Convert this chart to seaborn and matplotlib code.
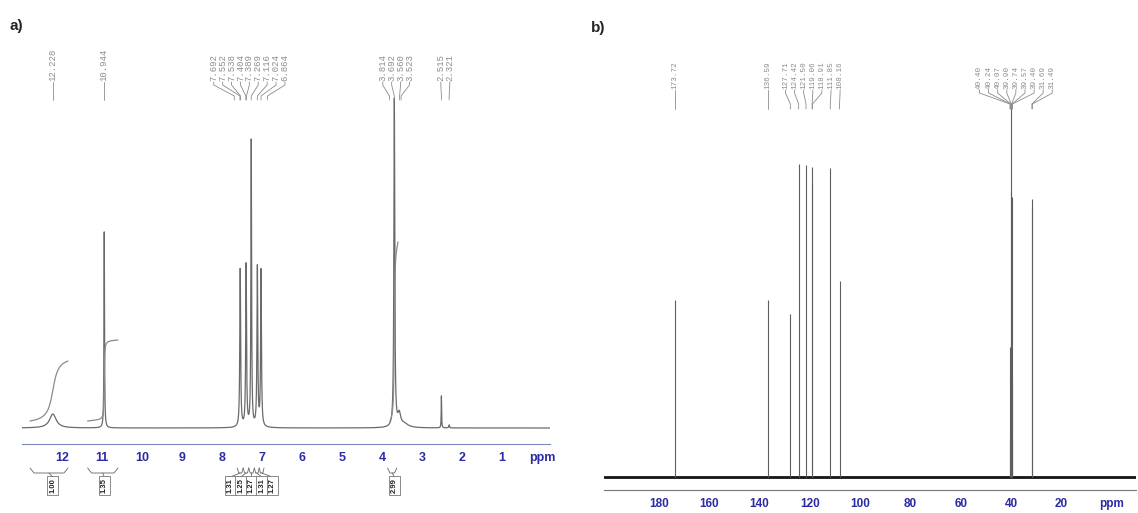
import numpy as np
import matplotlib
matplotlib.use("Agg")
import matplotlib.pyplot as plt
from matplotlib.ticker import MultipleLocator, FixedLocator, FixedFormatter
import seaborn as sns

# ---------------- data ----------------
# 1H spectrum: peak shift (ppm), height (px above baseline), half width (ppm)
h_shift = [12.228, 10.944, 7.545, 7.397, 7.269, 7.116, 7.024, 3.692, 3.57, 3.45, 2.515, 2.321]
h_height = [14, 196, 158, 162, 286, 159, 156, 328, 12, 4, 32, 3]
h_width = [0.10, 0.008, 0.012, 0.012, 0.010, 0.012, 0.012, 0.013, 0.04, 0.12, 0.006, 0.01]

# 1H peak pick labels
h_labels = [12.228, 10.944, 7.692, 7.552, 7.538, 7.404, 7.389, 7.269, 7.116,
            7.024, 6.864, 3.814, 3.692, 3.560, 3.523, 2.515, 2.321]

# 1H integrals
int_from = [12.80, 11.36, 7.62, 7.47, 7.33, 7.19, 7.07, 3.86]
int_to = [11.85, 10.60, 7.47, 7.33, 7.19, 7.07, 6.95, 3.63]
int_peak = [12.228, 10.944, 7.545, 7.397, 7.269, 7.116, 7.024, 3.692]
int_value = [1.00, 1.35, 1.31, 1.25, 1.27, 1.31, 1.27, 2.99]

# integral curves that show on the spectrum (from, to, offset, rise in px)
curve_from = [12.80, 11.36, 3.80]
curve_to = [11.85, 10.60, 3.60]
curve_base = [7, 7, 7]
curve_rise = [60, 81, 179]

# 13C spectrum
c_shift = [173.72, 136.59, 127.71, 124.42, 121.50, 119.06, 118.91, 111.85, 108.16,
           40.40, 40.24, 40.07, 39.90, 39.74, 39.57, 39.40, 31.69, 31.49]
c_height = [177, 177, 163, 313, 312, 310, 294, 309, 196,
            38, 130, 285, 371, 280, 96, 38, 278, 270]

h_ticks = list(range(0, 13))
c_ticks = list(range(0, 181, 20))

# ---------------- style ----------------
sns.set_theme(style="white")
plt.rcParams["font.family"] = ["Liberation Sans", "DejaVu Sans"]

W, H = 1138, 513
fig = plt.figure(figsize=(W / 100, H / 100), dpi=100)

SPEC = "#6a6a6a"
LAB = "#8c8c8c"
BLUE = "#2b2ba3"


def spread(vals, gap):
    """spread label positions so that neighbours are at least gap apart"""
    vals = np.asarray(vals, float)
    order = np.argsort(vals)
    groups = [[v] for v in vals[order]]
    changed = True
    while changed:
        changed = False
        merged = [groups[0]]
        for g in groups[1:]:
            p = merged[-1]
            end_p = np.mean(p) + (len(p) - 1) * gap / 2
            start_g = np.mean(g) - (len(g) - 1) * gap / 2
            if start_g - end_p < gap:
                merged[-1] = p + g
                changed = True
            else:
                merged.append(g)
        groups = merged
    out = []
    for g in groups:
        c = np.mean(g)
        out += [c + (i - (len(g) - 1) / 2) * gap for i in range(len(g))]
    res = np.empty(len(vals))
    res[order] = out
    return res


def lorentz(x, pos, hgt, wid):
    y = np.zeros_like(x)
    for p, h, w in zip(pos, hgt, wid):
        y += h * w ** 2 / ((x - p) ** 2 + w ** 2)
    return y


# ================= panel a : 1H =================
A_BASE, A_TOP, A_RULER = 428, 40, 444
ax = fig.add_axes([22 / W, (H - A_RULER) / H, 528 / W, (A_RULER - A_TOP) / H])
ay = lambda y: A_BASE - y

x = np.linspace(13.0, -0.2, 26401)
y = lorentz(x, h_shift, h_height, h_width)
sns.lineplot(x=x, y=y, ax=ax, color=SPEC, lw=0.9, estimator=None, sort=False)

for f, t, b, r in zip(curve_from, curve_to, curve_base, curve_rise):
    m = (x <= f) & (x >= t)
    cum = np.cumsum(y[m])
    sns.lineplot(x=x[m], y=b + r * cum / cum[-1], ax=ax, color="#8a8a8a", lw=0.9,
                 estimator=None, sort=False)

ax.set_xlim(13.0, -0.2)
ax.set_ylim(ay(A_RULER), ay(A_TOP))

# peak labels
lab_x = spread(h_labels, 8.9 / 40)
for v, lx in zip(h_labels, lab_x):
    ax.text(lx, ay(81), f"{v:.3f}", rotation=90, ha="center", va="bottom",
            fontsize=6.5, color=LAB, family=["Liberation Mono", "DejaVu Sans Mono"])
    ax.plot([lx, lx, v, v], [ay(82), ay(85), ay(96), ay(100)], color=LAB, lw=0.6)

# integrals below the ruler
box_x = spread(int_peak, 10.5 / 40)
for f, t, bx, val in zip(int_from, int_to, box_x, int_value):
    c = (f + t) / 2
    d = min(0.1, (f - t) / 4)
    ax.plot([f, f - d, c, t + d, t], [ay(468), ay(473), ay(473), ay(473), ay(468)],
            color="#666", lw=0.6, clip_on=False)
    ax.plot([c, bx], [ay(473), ay(477)], color="#666", lw=0.6, clip_on=False)
    ax.text(bx, ay(478), f"{val:.2f}", rotation=90, ha="center", va="top",
            fontsize=5.5, fontweight="bold", color="#222",
            bbox=dict(boxstyle="square,pad=0.25", fc="white", ec="#777", lw=0.6))

ax.xaxis.set_major_locator(FixedLocator(h_ticks))
ax.xaxis.set_major_formatter(FixedFormatter(["ppm" if t == 0 else str(t) for t in h_ticks]))
ax.xaxis.set_minor_locator(MultipleLocator(0.1))
ax.tick_params(axis="x", which="major", direction="in", length=4.5, width=0.8,
               color="#7b88c4", pad=6, labelsize=9, labelcolor=BLUE)
ax.tick_params(axis="x", which="minor", direction="in", length=2, width=0.6, color="#9aa4d2")
for lbl in ax.get_xticklabels():
    lbl.set_fontweight("bold")
ax.set_yticks([])
for s in ["top", "left", "right"]:
    ax.spines[s].set_visible(False)
ax.spines["bottom"].set_color("#7b88c4")
ax.spines["bottom"].set_linewidth(0.8)
ax.patch.set_alpha(0)

# ================= panel b : 13C =================
B_BASE, B_TOP, B_RULER = 477, 55, 490
bx_ = fig.add_axes([604 / W, (H - B_RULER) / H, 532 / W, (B_RULER - B_TOP) / H])
by = lambda y: B_BASE - y

bx_.axhline(0, color="#151515", lw=2.0)
bx_.vlines(c_shift, 0, c_height, color="#5e5e5e", lw=0.8)
bx_.set_xlim(201.8, -9.7)
bx_.set_ylim(by(B_RULER), by(B_TOP))

clab_x = spread(c_shift, 9.1 / 2.515)
for v, lx in zip(c_shift, clab_x):
    bx_.text(lx, by(89), f"{v:.2f}", rotation=90, ha="center", va="bottom",
             fontsize=5.5, color=LAB, family=["Liberation Mono", "DejaVu Sans Mono"])
    bx_.plot([lx, lx, v, v], [by(90), by(93), by(104), by(109)], color=LAB, lw=0.6)

bx_.xaxis.set_major_locator(FixedLocator(c_ticks))
bx_.xaxis.set_major_formatter(FixedFormatter(["ppm" if t == 0 else str(t) for t in c_ticks]))
bx_.xaxis.set_minor_locator(MultipleLocator(10))
bx_.tick_params(axis="x", which="major", direction="out", length=3.5, width=0.8,
                color="#777", pad=2, labelsize=8.5, labelcolor=BLUE)
bx_.tick_params(axis="x", which="minor", direction="out", length=2, width=0.6, color="#888")
for lbl in bx_.get_xticklabels():
    lbl.set_fontweight("bold")
bx_.set_yticks([])
for s in ["top", "left", "right"]:
    bx_.spines[s].set_visible(False)
bx_.spines["bottom"].set_color("#777")
bx_.spines["bottom"].set_linewidth(0.8)
bx_.patch.set_alpha(0)

fig.text(9 / W, 1 - 26 / H, "a)", fontsize=11, fontweight="bold", va="center", ha="left")
fig.text(591 / W, 1 - 28 / H, "b)", fontsize=11, fontweight="bold", va="center", ha="left")

fig.savefig("out.png", dpi=100, facecolor="white")
